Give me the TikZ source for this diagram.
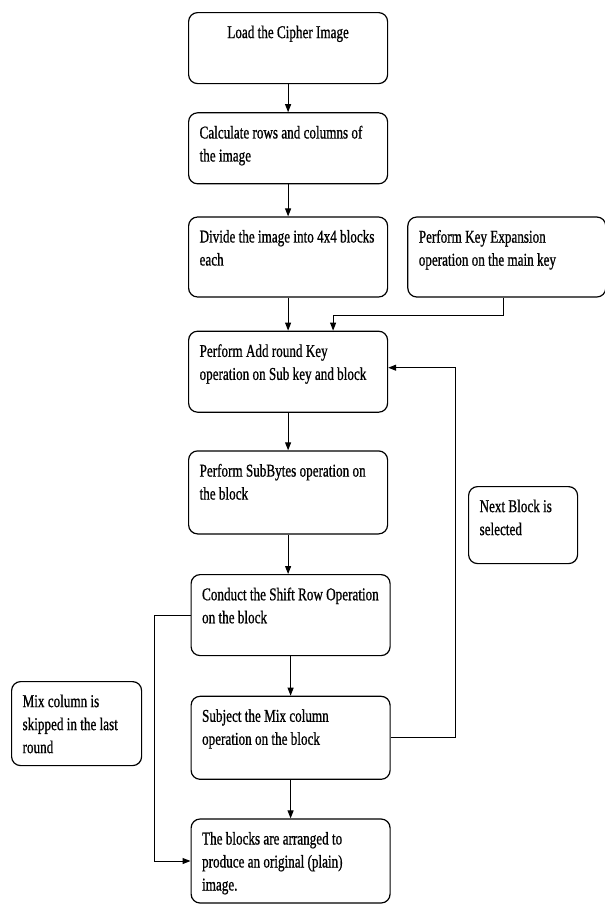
\documentclass[tikz,border=0pt]{standalone}
\usepackage{fontspec}
\setmainfont{Liberation Serif}[FakeStretch=0.73, FakeBold=0.8]
\usetikzlibrary{positioning,arrows.meta}

\newcommand{\boxtext}[3]{\parbox[c][#2][t]{#1}{\raggedright #3}}

\begin{document}
\begin{tikzpicture}[x=1pt, y=-1pt,
    flow/.style={draw, line width=1.2pt, rounded corners=9pt, anchor=north west,
        inner xsep=11pt, inner ysep=13pt, font=\fontsize{18}{23}\selectfont},
    arrow/.style={-{Triangle[length=8pt,width=6pt]}, line width=1pt}]
    \useasboundingbox (0,0) rectangle (605,906);
    % main column
    \node[flow] (load) at (188,12) {\boxtext{177pt}{45pt}{\centering Load the Cipher Image}};
    \node[flow] [below=28pt of load] (calc) {\boxtext{177pt}{45pt}{Calculate rows and columns of\\ the image}};
    \node[flow] [below=32pt of calc] (divide) {\boxtext{177pt}{54pt}{Divide the image into 4x4 blocks\\ each}};
    \node[flow] [right=19pt of divide] (keyexp) {\boxtext{176pt}{54pt}{Perform Key Expansion\\ operation on the main key}};
    \node[flow] [below=33pt of divide] (addkey) {\boxtext{177pt}{55pt}{Perform Add round Key\\ operation on Sub key and block}};
    \node[flow] [below=37.5pt of addkey] (subbytes) {\boxtext{177pt}{57pt}{Perform SubBytes operation on\\ the block}};
    \node[flow] [below=39.5pt of subbytes, xshift=2.5pt] (shiftrow) {\boxtext{177pt}{55pt}{Conduct the Shift Row Operation\\ on the block}};
    \node[flow] [below=39.5pt of shiftrow] (mixcol) {\boxtext{177pt}{57pt}{Subject the Mix column\\ operation on the block}};
    \node[flow] [below=38.5pt of mixcol] (final) {\boxtext{177pt}{58pt}{The blocks are arranged to\\ produce an original (plain)\\ image.}};
    % side notes
    \node[flow] (skipnote) at (11,681) {\boxtext{108pt}{58pt}{Mix column is\\ skipped in the last\\ round}};
    \node[flow] (nextnote) at (468,486) {\boxtext{87pt}{51pt}{Next Block is\\ selected}};
    % connectors
    \foreach \a/\b in {load/calc, calc/divide, divide/addkey, addkey/subbytes,
                       subbytes/shiftrow, shiftrow/mixcol, mixcol/final}
        \draw[arrow] (\a.south) -- (\a.south |- \b.north);
    \draw[arrow] ([xshift=-3pt]keyexp.south) -- ++(0,18) -| ([xshift=45pt]addkey.north);
    \draw[arrow] (mixcol.east) -- ++(65,0) |- ([yshift=4pt]addkey.east);
    \draw[arrow] (shiftrow.west) -- ++(-36,0) |- (final.west);
\end{tikzpicture}
\end{document}
